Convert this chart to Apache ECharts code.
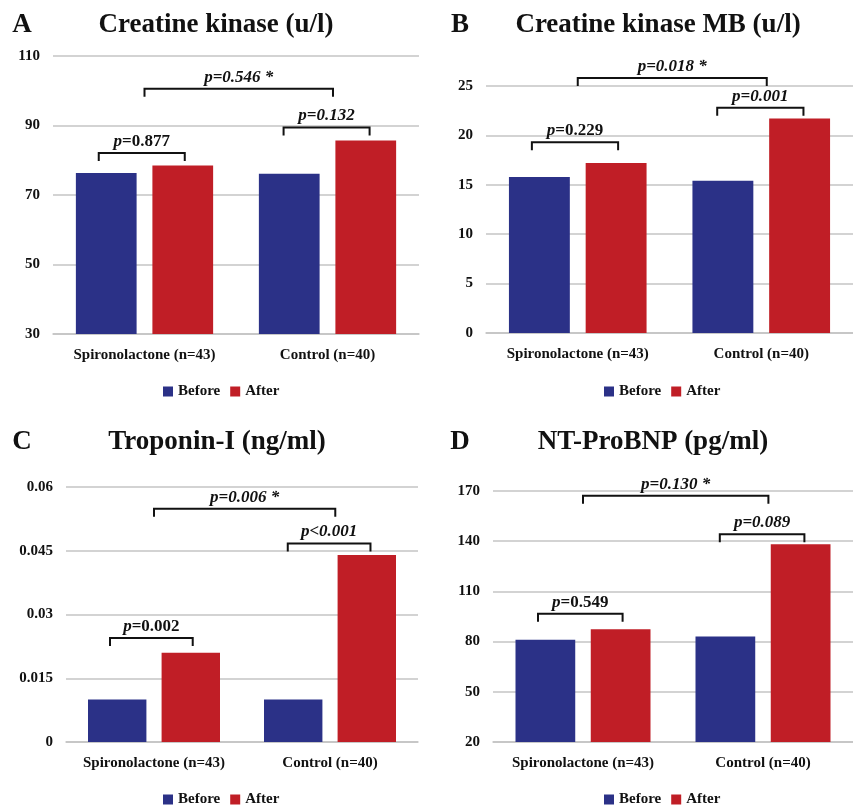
<!DOCTYPE html>
<html>
<head>
<meta charset="utf-8">
<script src="https://cdn.jsdelivr.net/npm/echarts@6/dist/echarts.min.js"></script>
<style>
html,body{margin:0;padding:0;background:#fff;}
#chart{width:853px;height:810px;}
</style>
</head>
<body>
<div id="chart"></div>
<script>
// ---------- data ----------
const categories = ['Spironolactone (n=43)', 'Control (n=40)'];
const seriesNames = ['Before', 'After'];

const panelLetters = ['A', 'B', 'C', 'D'];
const panelTitles = ['Creatine kinase (u/l)', 'Creatine kinase MB (u/l)', 'Troponin-I (ng/ml)', 'NT-ProBNP (pg/ml)'];

// Creatine kinase
const ckBefore = [76.3, 76.1];
const ckAfter = [78.5, 85.7];
const ckTicks = [30, 50, 70, 90, 110];
const ckPValues = ['0.877', '0.132', '0.546 *'];
const ckBracketLevels = [82.1, 89.4, 100.6];

// Creatine kinase MB
const ckmbBefore = [15.8, 15.4];
const ckmbAfter = [17.2, 21.7];
const ckmbTicks = [0, 5, 10, 15, 20, 25];
const ckmbPValues = ['0.229', '0.001', '0.018 *'];
const ckmbBracketLevels = [19.3, 22.8, 25.8];

// Troponin-I
const tropBefore = [0.010, 0.010];
const tropAfter = [0.021, 0.044];
const tropTicks = [0, 0.015, 0.03, 0.045, 0.06];
const tropPValues = ['0.002', '<0.001', '0.006 *'];
const tropBracketLevels = [0.0245, 0.0467, 0.0549];

// NT-ProBNP
const bnpBefore = [81.1, 83.0];
const bnpAfter = [87.4, 138.2];
const bnpTicks = [20, 50, 80, 110, 140, 170];
const bnpPValues = ['0.549', '0.089', '0.130 *'];
const bnpBracketLevels = [96.6, 144.2, 167.2];

// ---------- layout / style ----------
const FONT = '"Liberation Serif", "Times New Roman", serif';
const BLUE = '#2B3187';
const RED = '#C01E26';
const GRID_COLOR = '#c4c4c4';

const grids = [
  {left: 53, top: 56, width: 366, height: 278},
  {left: 486, top: 86, width: 372, height: 247},
  {left: 66, top: 487, width: 352, height: 255},
  {left: 493, top: 491, width: 365, height: 251}
];
const titlePos = [[216, 25], [658, 25], [217, 442], [653, 442]];
const letterPos = [[22, 25], [460, 25], [22, 442], [460, 442]];
const legendPos = [[163, 384], [604, 384], [163, 792], [604, 792]];

// bracket geometry: [category, offset as fraction of category width]
const bracketSpec = [
  {from: [0, -0.25], to: [0, 0.22], mixed: true},
  {from: [1, -0.24], to: [1, 0.23], mixed: false},
  {from: [0, 0], to: [1, 0.03], mixed: false}
];

const panels = [
  {before: ckBefore, after: ckAfter, ticks: ckTicks, p: ckPValues, levels: ckBracketLevels},
  {before: ckmbBefore, after: ckmbAfter, ticks: ckmbTicks, p: ckmbPValues, levels: ckmbBracketLevels},
  {before: tropBefore, after: tropAfter, ticks: tropTicks, p: tropPValues, levels: tropBracketLevels},
  {before: bnpBefore, after: bnpAfter, ticks: bnpTicks, p: bnpPValues, levels: bnpBracketLevels}
];

const pRich = {
  pi: {fontFamily: FONT, fontSize: 17, fontWeight: 'bold', fontStyle: 'italic', fill: '#111', color: '#111'},
  pn: {fontFamily: FONT, fontSize: 17, fontWeight: 'bold', fontStyle: 'normal', fill: '#111', color: '#111'}
};

function makeBracketRenderer(panel) {
  return function (params, api) {
    const idx = params.dataIndex;
    const spec = bracketSpec[idx];
    const level = api.value(1);
    const cw = api.size([1, 0])[0];
    const y = api.coord([0, level])[1];
    const x1 = api.coord([spec.from[0], level])[0] + spec.from[1] * cw;
    const x2 = api.coord([spec.to[0], level])[0] + spec.to[1] * cw;
    const pv = panel.p[idx];
    let text;
    if (spec.mixed) {
      text = '{pi|p}{pn|=' + pv + '}';
    } else {
      text = '{pi|p' + (pv.charAt(0) === '<' ? '' : '=') + pv + '}';
    }
    return {
      type: 'group',
      children: [
        {
          type: 'polyline',
          shape: {points: [[x1, y + 8], [x1, y], [x2, y], [x2, y + 8]]},
          style: {stroke: '#111', lineWidth: 2, fill: null}
        },
        {
          type: 'text',
          x: (x1 + x2) / 2,
          y: y - 3,
          style: {
            text: text,
            rich: pRich,
            font: 'italic bold 17px ' + FONT,
            fill: '#111',
            align: 'center',
            verticalAlign: 'bottom',
            textAlign: 'center',
            textVerticalAlign: 'bottom'
          }
        }
      ]
    };
  };
}

const option = {
  animation: false,
  backgroundColor: '#ffffff',
  grid: grids,
  graphic: [],
  legend: [],
  xAxis: [],
  yAxis: [],
  series: []
};

panels.forEach((panel, i) => {
  option.graphic.push({
    type: 'text', x: titlePos[i][0], y: titlePos[i][1],
    style: {text: panelTitles[i], font: 'bold 27px ' + FONT, fill: '#111',
      textAlign: 'center', textVerticalAlign: 'middle', align: 'center', verticalAlign: 'middle'}
  });
  option.graphic.push({
    type: 'text', x: letterPos[i][0], y: letterPos[i][1],
    style: {text: panelLetters[i], font: 'bold 27px ' + FONT, fill: '#111',
      textAlign: 'center', textVerticalAlign: 'middle', align: 'center', verticalAlign: 'middle'}
  });
  option.legend.push({
    data: seriesNames,
    left: legendPos[i][0], top: legendPos[i][1],
    padding: 0, itemGap: 10, itemWidth: 10, itemHeight: 10, icon: 'rect',
    textStyle: {fontFamily: FONT, fontSize: 15, fontWeight: 'bold', color: '#111'}
  });
  option.xAxis.push({
    type: 'category', gridIndex: i, data: categories,
    axisLine: {lineStyle: {color: GRID_COLOR, width: 1.5}},
    axisTick: {show: false},
    axisLabel: {fontFamily: FONT, fontSize: 15, fontWeight: 'bold', color: '#111', margin: 14, interval: 0}
  });
  const t = panel.ticks;
  option.yAxis.push({
    type: 'value', gridIndex: i,
    min: t[0], max: t[t.length - 1], interval: t[1] - t[0],
    axisLine: {show: false}, axisTick: {show: false},
    splitLine: {lineStyle: {color: GRID_COLOR, width: 1.5}},
    axisLabel: {
      fontFamily: FONT, fontSize: 15, fontWeight: 'bold', color: '#111', margin: 13,
      formatter: v => String(parseFloat(v.toFixed(4)))
    }
  });
  option.series.push({
    name: 'Before', type: 'bar', xAxisIndex: i, yAxisIndex: i, data: panel.before,
    itemStyle: {color: BLUE}, barCategoryGap: '25%', barGap: '26%'
  });
  option.series.push({
    name: 'After', type: 'bar', xAxisIndex: i, yAxisIndex: i, data: panel.after,
    itemStyle: {color: RED}, barCategoryGap: '25%', barGap: '26%'
  });
  option.series.push({
    name: 'brackets' + i, type: 'custom', xAxisIndex: i, yAxisIndex: i,
    clip: false, z: 5,
    data: panel.levels.map((v, k) => [bracketSpec[k].from[0], v]),
    renderItem: makeBracketRenderer(panel)
  });
});

const chart = echarts.init(document.getElementById('chart'), null, {renderer: 'canvas'});
chart.setOption(option);
</script>
</body>
</html>
